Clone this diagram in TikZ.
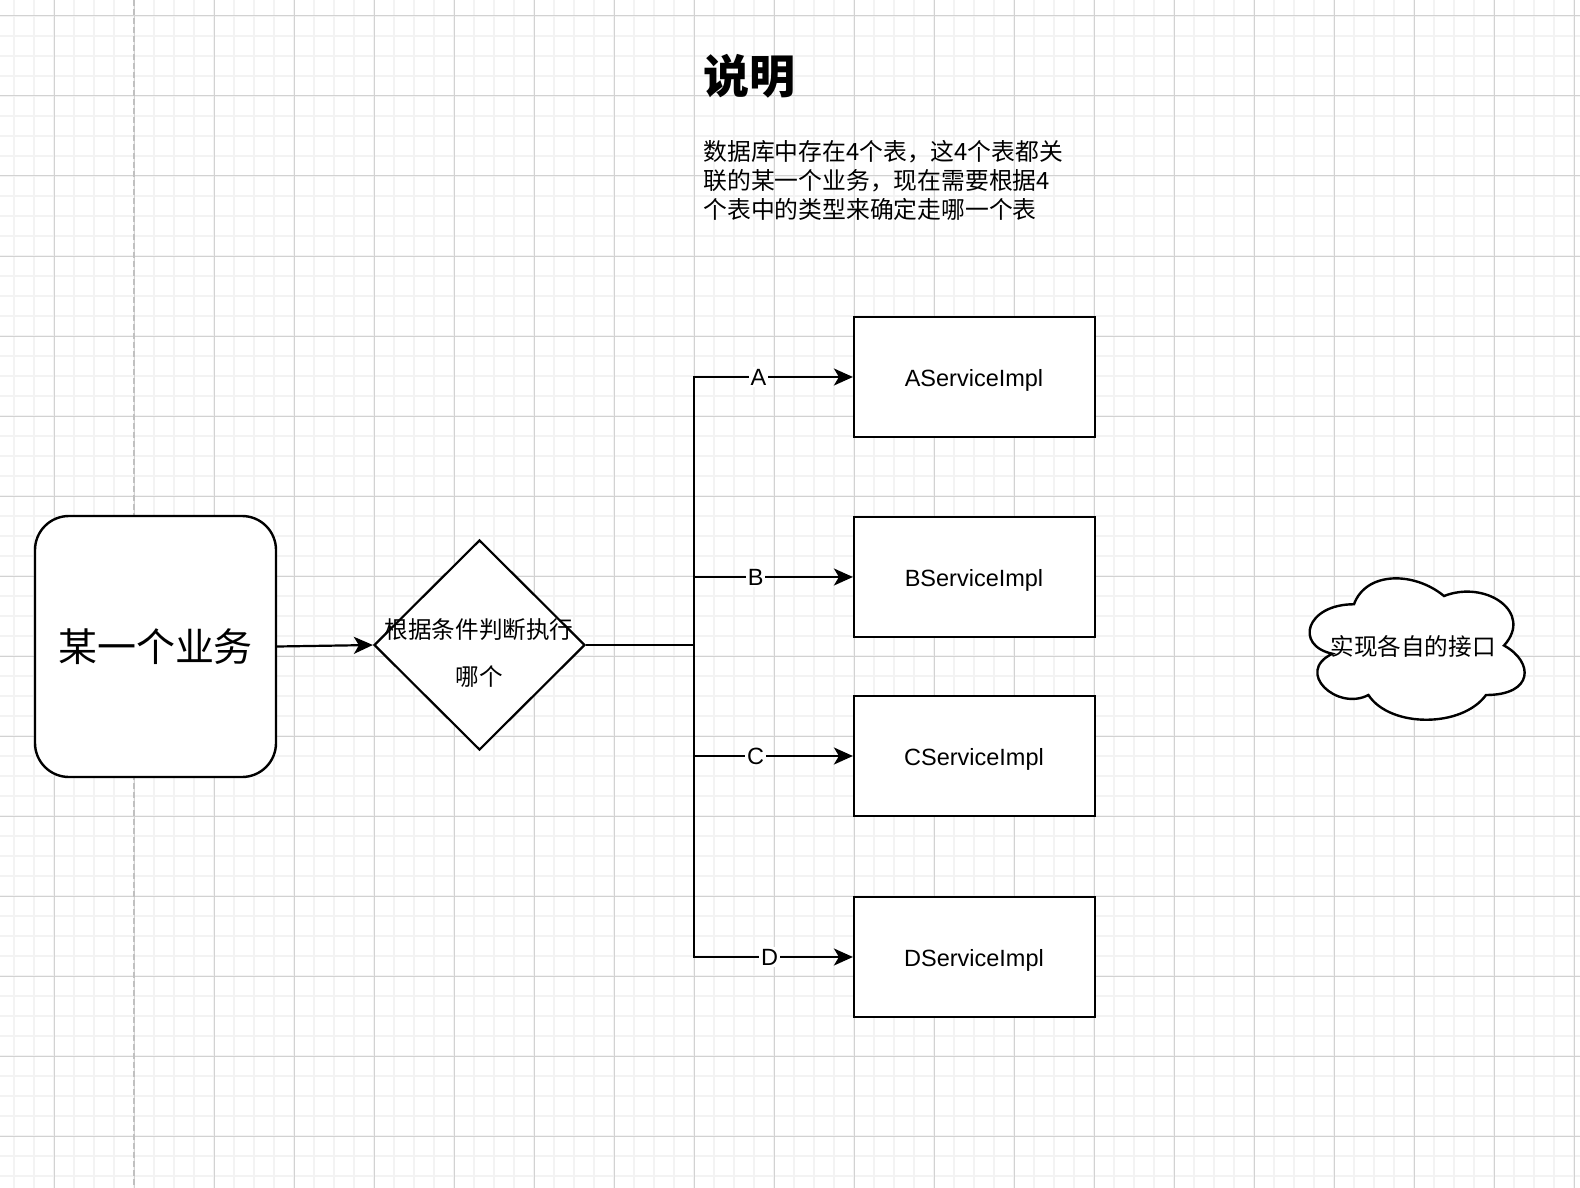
\documentclass[tikz,border=0pt]{standalone}
\usepackage{fontspec}
\setmainfont{Liberation Sans}
\newfontfamily\cjk{Noto Sans CJK SC}
\usetikzlibrary{arrows.meta,shapes.geometric}
\definecolor{gridminor}{HTML}{F3F3F3}
\definecolor{gridmajor}{HTML}{D2D2D2}
\definecolor{pagebreak}{HTML}{C0C0C0}
\tikzset{
  box/.style={draw=black, fill=white, line width=1.1pt, minimum width=120.5pt, minimum height=60pt, inner sep=0pt,
    font=\fontsize{11.75}{14}\selectfont},
  boxtext/.style={inner sep=0pt, font=\fontsize{11.75}{14}\selectfont},
  arr/.style={draw=black, line width=1.1pt, -{Stealth[length=9.5pt,width=8.5pt,inset=2.5pt]}},
  lbl/.style={fill=white, inner sep=1pt, font=\fontsize{11.75}{14}\selectfont},
}
\begin{document}
\begin{tikzpicture}[x=0.5pt,y=-0.5pt]
\useasboundingbox (0,0) rectangle (1580,1188);
\fill[white] (0,0) rectangle (1580,1188);
% grid
\foreach \x in {14,34,...,1574} \draw[gridminor, line width=1pt] (\x,0) -- (\x,1188);
\foreach \y in {16,36,...,1176} \draw[gridminor, line width=1pt] (0,\y) -- (1580,\y);
\foreach \x in {54,134,...,1574} \draw[gridmajor, line width=0.5pt] (\x,0) -- (\x,1188);
\foreach \y in {16,96,...,1176} \draw[gridmajor, line width=0.5pt] (0,\y) -- (1580,\y);
\draw[pagebreak, line width=1pt, dash pattern=on 3pt off 1.5pt] (134,0) -- (134,1188);

% title and description
\node[anchor=west, inner sep=0pt, font=\cjk\bfseries\fontsize{23}{27}\selectfont] (title) at (703,76) {说明};
\node[anchor=west, inner sep=0pt, align=left, font=\cjk\fontsize{11.9}{14.5}\selectfont] (desc) at (703,180)
  {数据库中存在4个表，这4个表都关\\联的某一个业务，现在需要根据4\\个表中的类型来确定走哪一个表};

% main business block
\node[draw=black, fill=white, line width=1.2pt, rounded corners=17pt, minimum width=120.5pt, minimum height=130.5pt,
  inner sep=0pt, font=\cjk\fontsize{19.5}{23}\selectfont] (biz) at (155.5,646.5) {某一个业务};

% decision
\node[draw=black, fill=white, line width=1.1pt, diamond, shape aspect=1, minimum width=105.5pt, minimum height=105pt,
  inner sep=0pt] (dec) at (479.5,645) {};
\node[inner sep=0pt, align=center, font=\cjk\fontsize{11.8}{23.5}\selectfont] (dectext) at (479,653)
  {根据条件判断执行\\哪个};

% service boxes
\node[box] (sa) at (974.5,377) {};
\node[box] (sb) at (974.5,577) {};
\node[box] (sc) at (974.5,756) {};
\node[box] (sd) at (974.5,957) {};
\node[boxtext] (ta) at (974,380) {AServiceImpl};
\node[boxtext] (tb) at (974,580) {BServiceImpl};
\node[boxtext] (tc) at (974,759) {CServiceImpl};
\node[boxtext] (td) at (974,960) {DServiceImpl};

% cloud
\draw[draw=black, fill=white, line width=1.2pt]
  (1354,604.25) .. controls (1306,604.25) and (1294,645.5) .. (1332.4,653.75)
  .. controls (1294,671.9) and (1337.2,711.5) .. (1368.4,695)
  .. controls (1390,728) and (1462,728) .. (1486,695)
  .. controls (1534,695) and (1534,662) .. (1504,645.5)
  .. controls (1534,612.5) and (1486,579.5) .. (1444,596)
  .. controls (1414,571.25) and (1366,571.25) .. (1354,604.25) -- cycle;
\node[inner sep=0pt, font=\cjk\fontsize{11.8}{14}\selectfont] (cloudtext) at (1413,646) {实现各自的接口};

% connectors
\coordinate (tm) at (694,645);
\draw[arr] (biz.east) -- (dec.west);
\draw[arr] (dec.east) -- (tm) |- node[lbl, pos=0.703] {A} (sa.west);
\draw[arr] (dec.east) -- (tm) |- node[lbl, pos=0.694] {B} (sb.west);
\draw[arr] (dec.east) -- (tm) |- node[lbl, pos=0.694] {C} (sc.west);
\draw[arr] (dec.east) -- (tm) |- node[lbl, pos=0.738] {D} (sd.west);
\end{tikzpicture}
\end{document}
